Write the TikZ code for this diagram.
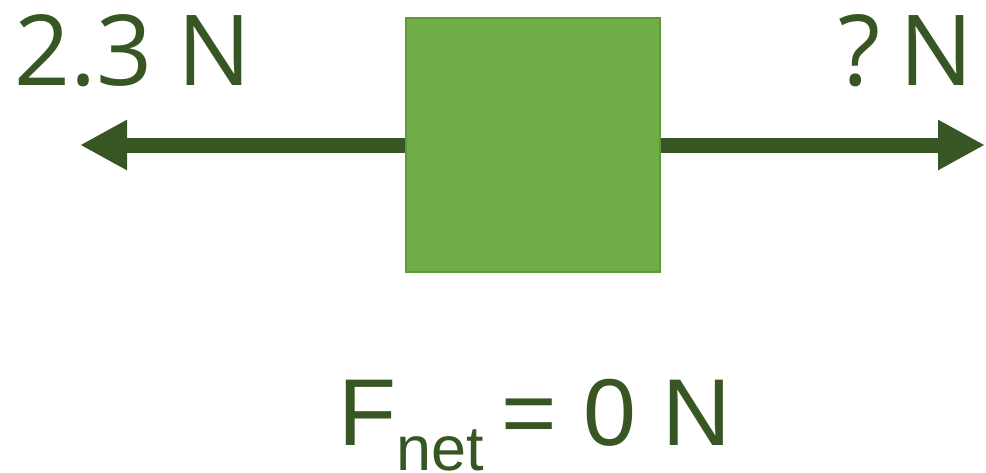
\documentclass[tikz,border=0pt]{standalone}
\usepackage{fontspec}
\setmainfont{Open Sans}
\newfontfamily\arialfont{Liberation Sans}
\usetikzlibrary{arrows.meta}
\definecolor{darkgreen}{HTML}{375623}
\definecolor{boxgreen}{HTML}{70AD47}
\definecolor{boxedge}{HTML}{5E9A3C}

\begin{document}
\begin{tikzpicture}[x=1pt,y=1pt,
    forcearrow/.style={-{Triangle[length=47pt,width=47pt]}, line width=15pt, draw=darkgreen},
    forcelabel/.style={text=darkgreen, inner sep=0pt, font=\fontsize{98}{98}\selectfont}]
  \useasboundingbox (0,0) rectangle (986,-472);
  \node[draw=boxedge, fill=boxgreen, line width=2pt, minimum width=254pt, minimum height=254pt, inner sep=0pt](block) at (533,-145) {};
  \coordinate (lefttip) at (80,-145);
  \coordinate (righttip) at (985,-145);
  \draw[forcearrow] (block.west) -- (lefttip);
  \draw[forcearrow] (block.east) -- (righttip);
  \node[forcelabel, anchor=base west](leftlabel) at (14,-85) {2.3 N};
  \node[forcelabel, anchor=base east](rightlabel) at (974,-85) {?\hspace{0.2em}N};
  \node[anchor=base west, text=darkgreen, inner sep=0pt](netlabel) at (338,-445) {\arialfont\fontsize{95}{95}\selectfont F\raisebox{-25pt}{\fontsize{63}{63}\selectfont net }= 0 N};
\end{tikzpicture}
\end{document}
